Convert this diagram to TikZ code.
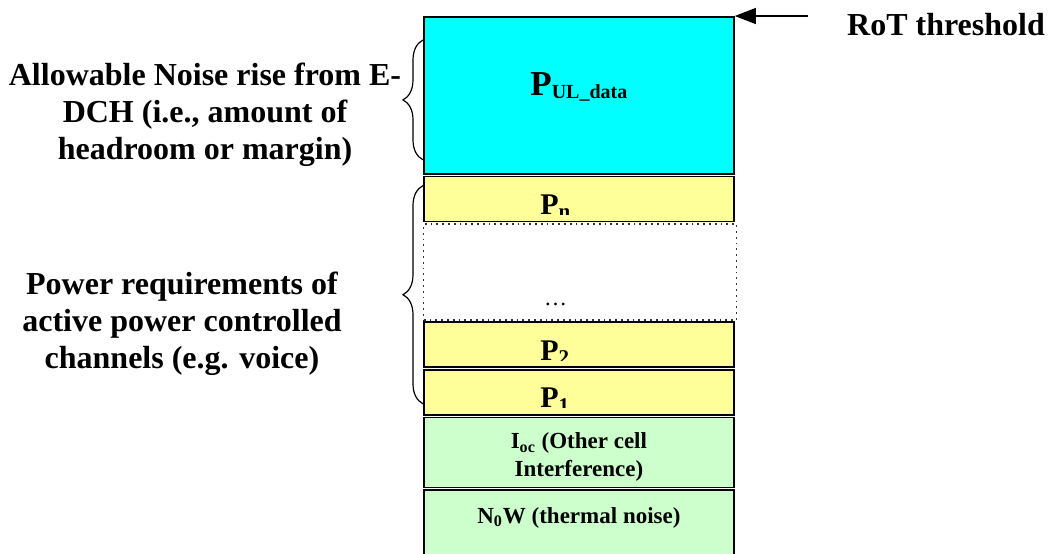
\documentclass[tikz,border=0pt]{standalone}
\usepackage{fontspec}
\setmainfont{Liberation Serif}
\usetikzlibrary{positioning,decorations.pathreplacing,arrows.meta}

\definecolor{uldata}{HTML}{00FFFF}
\definecolor{chanfill}{HTML}{FFFF99}
\definecolor{noisefill}{HTML}{CCFFCC}

\tikzset{
  layer/.style={draw, line width=0.9pt, minimum width=155pt, inner sep=0pt,
    font=\bfseries\fontsize{11.5}{14}\selectfont},
  chanbox/.style={layer, fill=chanfill, minimum height=22.5pt},
  chanlabel/.style={anchor=base west, inner sep=0pt, font=\bfseries\fontsize{15}{18}\selectfont},
  side/.style={font=\bfseries\fontsize{16}{18.5}\selectfont, align=center},
  brc/.style={decorate, decoration={brace, amplitude=10pt}, line width=0.6pt},
}

\begin{document}
\begin{tikzpicture}[x=0.5pt, y=-0.5pt]
  \useasboundingbox (0,0) rectangle (1051,553);

  % the stack of power layers
  \node[layer, fill=uldata, minimum height=78.5pt, anchor=north west,
    text height=39.5pt, text depth=39pt] (ul) at (423,16)
    {\fontsize{17.5}{20}\selectfont P\raisebox{-1.5pt}{\fontsize{10}{12}\selectfont UL\_data}};
  \node[chanbox, below=0.4pt of ul] (pn) {};
  \node[layer, draw=black!80, dotted, line width=0.7pt, minimum width=156.5pt,
    minimum height=48pt, below=0.4pt of pn.south west, anchor=north west] (more) {};
  \node[chanbox, below=0.4pt of more.south west, anchor=north west] (p2) {};
  \node[chanbox, below=0.4pt of p2] (p1) {};
  \node[layer, fill=noisefill, align=center, text height=29.5pt, text depth=5.5pt,
    below=0.4pt of p1] (ioc)
    {I\textsubscript{oc} (Other cell\\Interference)};
  \node[layer, fill=noisefill, text height=16.5pt, text depth=23.5pt, below=0.4pt of ioc] (n0w)
    {N\textsubscript{0}W (thermal noise)};

  % channel labels, cut off at their baseline
  \foreach \ch/\sub in {pn/n, p2/2, p1/1} {
    \begin{scope}
      \clip (\ch.north west) rectangle ([yshift=4pt]\ch.south east);
      \node[chanlabel] (\ch-lbl) at ([xshift=58.5pt,yshift=4pt]\ch.south west)
        {P\textsubscript{\sub}};
    \end{scope}
  }
  \node[font=\fontsize{11.5}{14}\selectfont] (ellip) at ([xshift=-12.25pt,yshift=8pt]more.south) {\dots};

  % threshold marker
  \node[side] (rot) at (946,25) {RoT threshold};
  \coordinate (thr) at (808,16);
  \draw[-{Triangle[length=10.5pt,width=8pt]}, line width=0.6pt] (thr) -- (ul.north east);

  % braces and their labels
  \draw[brc] ([yshift=7.5pt]ul.south west) -- ([yshift=-12pt]ul.north west);
  \draw[brc] ([yshift=6pt]p1.south west) -- ([yshift=-5pt]pn.north west);
  \node[side] (headroom) at (205,115)
    {Allowable Noise rise from E-\\DCH (i.e., amount of\\headroom or margin)};
  \node[side] (chans) at (182,324)
    {Power requirements of\\active power controlled\\channels (e.g. voice)};
\end{tikzpicture}
\end{document}
